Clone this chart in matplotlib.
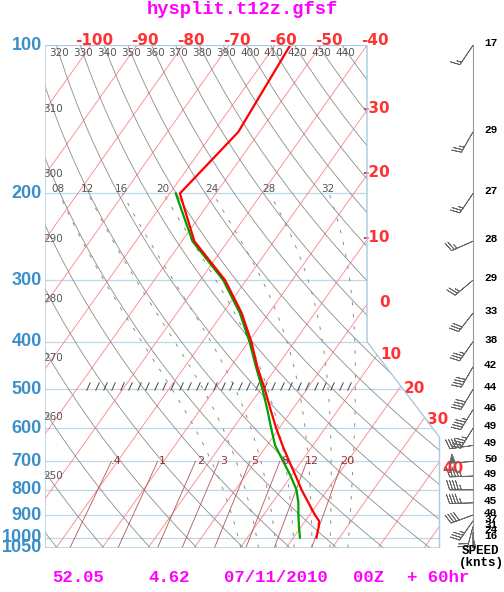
import numpy as np
import matplotlib
matplotlib.use('Agg')
import matplotlib.pyplot as plt
from matplotlib.patches import Polygon

W, H = 504, 592
PX_C = 4.6       # pixels per degC along an isobar
SKEW = 33.0      # degC shift per unit ln(p)
PX_LNP = 213.8   # pixels per unit ln(p)

# sounding (hPa, degC)
pres = [100, 150, 200, 250, 300, 350, 400, 450, 500, 550, 600, 650, 700,
        750, 800, 850, 900, 925, 950, 1000]
temp = [-56.7, -54.6, -57.8, -47.3, -34.6, -25.9, -19.4, -14.2, -9.1, -4.7,
        -0.6, 3.4, 7.3, 11.0, 14.4, 17.9, 21.2, 23.0, 23.8, 25.0]
dew_pres = [200, 250, 300, 350, 400, 450, 500, 550, 600, 650, 700, 750,
            800, 850, 900, 950, 1000]
dewpt = [-58.7, -47.7, -35.0, -26.3, -19.8, -14.5, -9.6, -5.4, -1.7, 1.8,
         6.0, 9.9, 13.3, 15.7, 17.6, 19.5, 21.4]

# winds
wind_pres = [100, 150, 200, 250, 300, 350, 400, 450, 500, 550, 600, 650,
             700, 750, 800, 850, 900, 925, 950, 975, 1000]
wind_spd = [17, 29, 27, 28, 29, 33, 38, 42, 44, 46, 49, 49, 50, 49, 48, 45,
            40, 37, 31, 24, 16]
wind_dir = [214, 210, 214, 246, 230, 218, 215, 210, 211, 212, 212, 262,
            265, 268, 270, 268, 250, 215, 195, 180, 165]

isobars = [100, 200, 300, 400, 500, 600, 700, 800, 900, 1000, 1050]
isobar_labels = ['100', '200', '300', '400', '500', '600', '700', '800',
                 '900', '1000', '1050']
isotherms = list(range(-130, 70, 10))
top_t_labels = [-100, -90, -80, -70, -60, -50, -40]
side_t_labels = [-30, -20, -10, 0]
diag_t_labels = [10, 20, 30, 40]
diag_dy = [0, -2, -2, -7]
thetas = list(range(240, 460, 10))
top_theta_labels = list(range(320, 450, 10))
left_theta_labels = [310, 300, 290, 280, 270, 260, 250]
left_theta_y = [109, 174, 239, 299, 358, 417, 476]
theta_w = [8, 12, 16, 20, 24, 28, 32]
mix_ratios = [0.4, 1, 2, 3, 5, 8, 12, 20]
mix_labels = ['.4', '1', '2', '3', '5', '8', '12', '20']

footer = [('52.05', 52), ('4.62', 148), ('07/11/2010', 224), ('00Z', 353),
          ('+ 60hr', 407)]


def skx(t, p):
    return np.asarray(t, dtype=float) - SKEW * np.log(np.asarray(p, dtype=float) / 100.0)


def dry_t(theta, p):
    return theta * (np.asarray(p) / 1000.0) ** 0.286 - 273.15


def moist_rate(tk, p):
    es = 6.112 * np.exp(17.67 * (tk - 273.15) / (tk - 29.65))
    rs = 0.622 * es / (p - es)
    rd, cp, lv = 287.04, 1005.7, 2.501e6
    return (rd * tk + lv * rs) / (cp + lv * lv * rs * 0.622 / (rd * tk * tk))


def moist_t(tw, p_end, n=300):
    lnp = np.linspace(np.log(1000.0), np.log(p_end), n)
    h = lnp[1] - lnp[0]
    t = np.empty(n)
    t[0] = tw + 273.15
    for i in range(n - 1):
        p0 = np.exp(lnp[i])
        k1 = moist_rate(t[i], p0)
        k2 = moist_rate(t[i] + 0.5 * h * k1, np.exp(lnp[i] + 0.5 * h))
        k3 = moist_rate(t[i] + 0.5 * h * k2, np.exp(lnp[i] + 0.5 * h))
        k4 = moist_rate(t[i] + h * k3, np.exp(lnp[i + 1]))
        t[i + 1] = t[i] + h * (k1 + 2 * k2 + 2 * k3 + k4) / 6.0
    return np.exp(lnp), t - 273.15


def mix_t(w, p):
    e = w * np.asarray(p) / (622.0 + w)
    a = np.log(e / 6.112)
    return 243.5 * a / (17.67 - a)


def y2p(y):
    return 100.0 * np.exp((y - 45.0) / PX_LNP)


fig = plt.figure(figsize=(W / 100, H / 100), dpi=100)
ax = fig.add_axes([45 / W, 44 / H, 459 / W, PX_LNP * np.log(10.5) / H])
ax.set_yscale('log')
ax.set_ylim(1050, 100)
ax.set_xlim(-110, -110 + 459 / PX_C)
ax.axis('off')

x_right_low = -40 + 72.5 / PX_C
frame = Polygon([(-110, 100), (-40, 100), (-40, 400), (x_right_low, 625),
                 (x_right_low, 1050), (-110, 1050)], closed=True, fill=False,
                edgecolor='#a6cbe2', lw=1.0, zorder=6)
ax.add_patch(frame)


def clipped(lines):
    for ln in lines:
        ln.set_clip_path(frame)


# isobars
for p in isobars:
    clipped(ax.plot([-110, 0], [p, p], color='#bcd9ea', lw=0.9, zorder=1))

# isotherms
pp = np.array([100.0, 1050.0])
for t in isotherms:
    clipped(ax.plot(skx(t, pp), pp, color='#ff8080', lw=0.6, zorder=2))

# dry adiabats
pd = np.geomspace(100, 1050, 300)
for th in thetas:
    clipped(ax.plot(skx(dry_t(th, pd), pd), pd, color='#8c8c8c', lw=0.6, zorder=2))

# moist adiabats
for tw in theta_w:
    pu, tu = moist_t(tw, 200.0)
    pl, tl = moist_t(tw, 1050.0, 20)
    pm = np.concatenate([pl[::-1], pu[1:]])
    tm = np.concatenate([tl[::-1], tu[1:]])
    clipped(ax.plot(skx(tm, pm), pm, color='#8c8c8c', lw=0.7,
                    dashes=(3.5, 9), zorder=2))
    ax.annotate('%02d' % tw, (skx(tu[-1], 200.0), 200.0), xytext=(-1, 4),
                textcoords='offset pixels', ha='center', va='center',
                fontsize=7.5, color='#555555', zorder=7)

# mixing ratio lines
pw = np.array([700.0, 1050.0])
for w, lab in zip(mix_ratios, mix_labels):
    clipped(ax.plot(skx(mix_t(w, pw), pw), pw, color='#b35555', lw=0.6, zorder=2))
    ax.annotate(lab, (float(skx(mix_t(w, 700.0), 700.0)), 700.0), xytext=(5, 0),
                textcoords='offset pixels', ha='center', va='center',
                fontsize=8, color='#993333', zorder=7)

# 500 hPa hatch marks
hx = np.arange(-100.6, -43.0, 1.83)
ax.plot(hx, np.full(hx.size, 492.0), ls='none', marker=[(-0.45, -1), (0.45, 1)],
        ms=6, mec='#444444', mew=0.7, zorder=3)

# sounding
clipped(ax.plot(skx(temp, pres), pres, color='#ff0000', lw=1.6, zorder=5))
clipped(ax.plot(skx(dewpt, dew_pres), dew_pres, color='#00a000', lw=1.6, zorder=4))

# pressure labels
for p, lab in zip(isobars, isobar_labels):
    ax.text(-0.007, p, lab, transform=ax.get_yaxis_transform(), ha='right',
            va='center', fontsize=13, fontweight='bold', color='#3a8fc8',
            family='Liberation Sans')

# isotherm labels
tkw = dict(textcoords='offset pixels', ha='right', va='center', fontsize=11,
           fontweight='bold', color='#ff3333', annotation_clip=False)
for t in top_t_labels:
    ax.annotate('%d' % t, (t, 100.0), xytext=(22, 5), **tkw)
for t in side_t_labels:
    pc = 100.0 * np.exp((t + 40) / SKEW)
    ax.annotate('%d' % t, (-40, pc), xytext=(23, 2), **tkw)
slope = (x_right_low + 40) / np.log(625 / 400.0)
for t, dy in zip(diag_t_labels, diag_dy):
    lc = (t + 40 + slope * np.log(4.0)) / (SKEW + slope)
    if lc > np.log(6.25):
        lc = (t - x_right_low) / SKEW
    ax.annotate('%d' % t, (t - SKEW * lc, 100 * np.exp(lc)), xytext=(24, dy), **tkw)

# potential temperature labels
for th in top_theta_labels:
    ax.annotate('%d' % th, (float(skx(dry_t(th, 100.0), 100.0)), 100.0),
                xytext=(3, -8), textcoords='offset pixels', ha='center',
                va='center', fontsize=7.5, color='#555555')
for th, yl in zip(left_theta_labels, left_theta_y):
    ax.annotate('%d' % th, (-110, y2p(yl)), xytext=(-2, 0), textcoords='offset pixels',
                ha='left', va='center', fontsize=7.5, color='#555555')

# winds
xb = -40 + (473 - 367) / PX_C
ax.plot([xb, xb], [100, 1050], color='#9a9a9a', lw=0.8, zorder=3)
rad = np.deg2rad(wind_dir)
u = -np.array(wind_spd) * np.sin(rad)
v = -np.array(wind_spd) * np.cos(rad)
ax.barbs(np.full(len(wind_pres), xb), wind_pres, u, v, length=5.8,
         pivot='tip', color='#666666', rounding=False, lw=0.6, zorder=4)
xs_lab = -40 + (484 - 367) / PX_C
for p, s in zip(wind_pres, wind_spd):
    ax.annotate('%d' % s, (xs_lab, p), xytext=(0, 2), textcoords='offset pixels',
                ha='left', va='center', fontsize=8, fontweight='bold',
                family='Liberation Mono', color='black', annotation_clip=False)

fig.text(481 / W, 1 - 551 / H, 'SPEED', ha='center', va='center', fontsize=9,
         fontweight='bold', family='Liberation Mono')
fig.text(481 / W, 1 - 563 / H, '(knts)', ha='center', va='center', fontsize=9,
         fontweight='bold', family='Liberation Mono')

fig.text(242 / W, 1 - 10 / H, 'hysplit.t12z.gfsf', ha='center', va='center',
         fontsize=13.5, fontweight='bold', family='Liberation Mono', color='#ff00ff')
for s, x in footer:
    fig.text(x / W, 1 - 578 / H, s, ha='left', va='center', fontsize=12.5,
             fontweight='bold', family='Liberation Mono', color='#ff00ff')

fig.savefig('out.png', dpi=100, facecolor='white')
